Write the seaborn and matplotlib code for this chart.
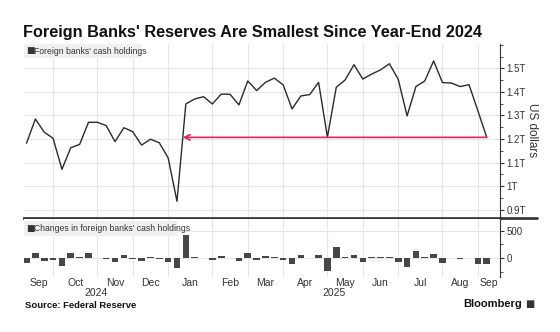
import numpy as np
import pandas as pd
import matplotlib
matplotlib.use("Agg")
import matplotlib.pyplot as plt
import matplotlib.dates as mdates
from matplotlib.lines import Line2D
from matplotlib.patches import Rectangle
from matplotlib.ticker import FixedLocator, MultipleLocator
import seaborn as sns

# ---------------- data ----------------
start_date = "2024-09-11"
n_weeks = 53
holdings = [1.182, 1.285, 1.229, 1.203, 1.071, 1.163, 1.177, 1.271, 1.271, 1.257,
            1.189, 1.248, 1.231, 1.174, 1.199, 1.184, 1.120, 0.935, 1.349, 1.370,
            1.380, 1.349, 1.391, 1.390, 1.345, 1.447, 1.406, 1.441, 1.459, 1.430,
            1.328, 1.383, 1.389, 1.441, 1.208, 1.420, 1.451, 1.516, 1.455, 1.476,
            1.494, 1.520, 1.454, 1.298, 1.423, 1.447, 1.532, 1.440, 1.438, 1.423,
            1.431, 1.320, 1.207]
changes = [-90, 103, -56, -26, -132, 92, 14, 94, 0, -14,
           -68, 59, -17, -57, 25, -15, -64, -185, 414, 21,
           10, -31, 42, -1, -45, 102, -41, 35, 18, -29,
           -102, 55, 6, 52, -233, 212, 31, 65, -61, 21,
           18, 26, -66, -156, 125, 24, 85, -92, -2, -15,
           8, -111, -113]
month_labels = ["Sep", "Oct", "Nov", "Dec", "Jan", "Feb", "Mar", "Apr",
                "May", "Jun", "Jul", "Aug", "Sep"]
year_labels = ["2024", "2025"]
upper_ticks = [0.9, 1.0, 1.1, 1.2, 1.3, 1.4, 1.5]
upper_tick_labels = ["0.9T", "1T", "1.1T", "1.2T", "1.3T", "1.4T", "1.5T"]
lower_ticks = [0, 500]
lower_tick_labels = ["0", "500"]
title = "Foreign Banks' Reserves Are Smallest Since Year-End 2024"
legend_upper = "Foreign banks' cash holdings"
legend_lower = "Changes in foreign banks' cash holdings"
source = "Source: Federal Reserve"
brand = "Bloomberg"

dates = pd.date_range(start_date, periods=n_weeks, freq="7D")
df = pd.DataFrame({"date": dates, "x": mdates.date2num(dates),
                   "holdings": holdings, "change": changes})

# ---------------- style ----------------
sns.set_theme(style="white")
plt.rcParams["font.family"] = ["Liberation Sans", "DejaVu Sans"]

W, H = 560, 332
fig = plt.figure(figsize=(W / 100, H / 100), dpi=100)

def fx(px):
    return px / W

def fy(py):
    return 1 - py / H

L, R = 24, 500
ax1 = fig.add_axes([fx(L), fy(218), fx(R - L), (218 - 44) / H])
ax2 = fig.add_axes([fx(L), fy(277), fx(R - L), (277 - 219) / H], sharex=ax1)

line_col = "#2b2b2b"
bar_col = "#474747"
grid_col = "#e6e6e6"
red = "#e2245a"
txt_col = "#333333"

# upper line
sns.lineplot(data=df, x="x", y="holdings", ax=ax1, color=line_col, lw=1.0)
# lower bars
sns.barplot(data=df, x="x", y="change", ax=ax2, color=bar_col,
            native_scale=True, width=0.75, saturation=1,
            edgecolor="none", linewidth=0)

xmin = mdates.date2num(pd.Timestamp("2024-09-09"))
xmax = mdates.date2num(pd.Timestamp("2025-09-20 12:00"))
ax1.set_xlim(xmin, xmax)

# month boundaries: first weekly observation of each month
first_of_month = df.groupby(df["date"].dt.to_period("M"))["x"].min().values
bounds = list(first_of_month[1:])  # first month starts off-axis
edges = [xmin] + bounds + [xmax]
mids = [(a + b) / 2 for a, b in zip(edges[:-1], edges[1:])]

jan = df.loc[df["date"] >= "2025-01-01", "x"].min()

for ax in (ax1, ax2):
    ax.set_xlabel("")
    ax.set_ylabel("")
    ax.xaxis.set_minor_locator(FixedLocator(bounds))
    ax.grid(which="minor", axis="x", color=grid_col, lw=0.8)
    ax.grid(which="major", axis="y", color=grid_col, lw=0.8)
    ax.yaxis.tick_right()
    for s in ("top", "left"):
        ax.spines[s].set_visible(False)
    ax.spines["right"].set_color(txt_col)
    ax.spines["right"].set_linewidth(0.8)
    ax.tick_params(axis="y", which="both", direction="out", color=txt_col,
                   labelsize=7, labelcolor=txt_col, pad=1.5)
    ax.tick_params(axis="y", which="major", length=3, width=0.8)
    ax.tick_params(axis="y", which="minor", length=2, width=0.6)
    ax.tick_params(axis="x", which="both", length=0)
    ax.set_axisbelow(True)

ax1.set_ylim(0.864, 1.604)
ax1.set_yticks(upper_ticks)
ax1.set_yticklabels(upper_tick_labels)
ax1.yaxis.set_minor_locator(MultipleLocator(0.05))
ax1.spines["bottom"].set_color("#3a3a3a")
ax1.spines["bottom"].set_linewidth(2.0)
ax1.tick_params(axis="x", labelbottom=False)
ax1.set_xticks(mids)

ax2.set_ylim(-340, 710)
ax2.set_yticks(lower_ticks)
ax2.set_yticklabels(lower_tick_labels)
ax2.yaxis.set_minor_locator(FixedLocator([-250, 250]))
ax2.spines["bottom"].set_visible(False)
ax2.set_xticks(mids)
ax2.set_xticklabels(month_labels)
ax2.tick_params(axis="x", labelsize=7.5, labelcolor=txt_col, pad=1)

# year labels
for xpos, lab in (((xmin + jan) / 2, year_labels[0]), ((jan + xmax) / 2, year_labels[1])):
    ax2.text(xpos, -0.28, lab, transform=ax2.get_xaxis_transform(),
             ha="center", va="center", fontsize=7.5, color=txt_col)

# red arrow from last point back to January
last_x = df["x"].iloc[-1]
last_y = df["holdings"].iloc[-1]
arrow_end = df["x"].iloc[17] + (df["x"].iloc[18] - df["x"].iloc[17]) * \
    (last_y - df["holdings"].iloc[17]) / (df["holdings"].iloc[18] - df["holdings"].iloc[17])
ax1.annotate("", xy=(arrow_end, last_y), xytext=(last_x, last_y),
             arrowprops=dict(arrowstyle="->", color=red, lw=1.2,
                             shrinkA=0, shrinkB=0, mutation_scale=10))

# y-axis title
fig.text(fx(532), fy(130), "US dollars", rotation=270, ha="center", va="center",
         fontsize=8.5, color=txt_col)

# legends (boxed labels)
def legend_box(x0, x1, y0, y1, text):
    fig.add_artist(Rectangle((fx(x0), fy(y1)), fx(x1 - x0), (y1 - y0) / H,
                             transform=fig.transFigure, fc="#f0f0f0", ec="none",
                             zorder=3))
    yc = fy((y0 + y1) / 2)
    fig.text(fx(x0 + 2.5), yc, "\u25A0", ha="left", va="center", fontsize=6.5,
             color=txt_col, family=["DejaVu Sans"], zorder=4)
    fig.text(fx(x0 + 10.5), yc, text, ha="left", va="center", fontsize=6.2,
             color=txt_col, zorder=4)

legend_box(24, 142, 44, 58, legend_upper)
legend_box(24, 178, 221, 236, legend_lower)

# separator extends past axis
fig.add_artist(Line2D([fx(R), fx(537)], [fy(218), fy(218)], color="#3a3a3a", lw=2.0))

# title & footer
fig.text(fx(23), fy(33), title, ha="left", va="center", fontsize=11.7,
         fontweight="bold", color="#111111")
fig.text(fx(25), fy(305), source, ha="left", va="center", fontsize=6.8,
         fontweight="bold", color="#111111")
fig.text(fx(522), fy(304), brand, ha="right", va="center", fontsize=8,
         fontweight="bold", color="#111111")
fig.text(fx(525), fy(304), "\u25A0", ha="left", va="center", fontsize=7,
         color=txt_col, family=["DejaVu Sans"])

fig.savefig("out.png", dpi=100)
